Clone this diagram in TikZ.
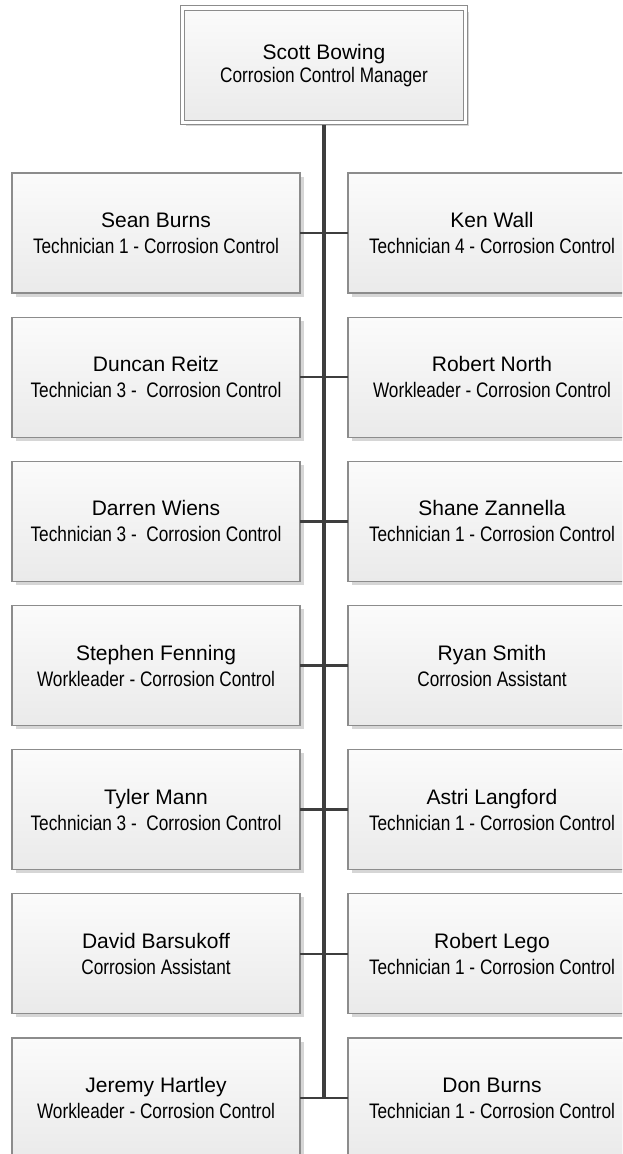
\documentclass[tikz,border=0pt]{standalone}
\usepackage{fontspec}
\setmainfont{Liberation Sans}
\newfontfamily\titlefont[FakeStretch=0.82]{Liberation Sans}
\usetikzlibrary{shadows}

\definecolor{boxline}{HTML}{8C8C8C}
\definecolor{boxtop}{HTML}{FBFBFB}
\definecolor{boxbottom}{HTML}{EAEAEA}
\definecolor{shadowgray}{HTML}{D6D6D6}
\definecolor{wire}{HTML}{3E3E3E}

% one entry of the chart: name on the first line, job title below
\newcommand\staffentry[2]{#1\\{\titlefont #2}}

\tikzset{
  staffbox/.style={draw=boxline, line width=1.2pt,
    top color=boxtop, bottom color=boxbottom,
    minimum width=288pt, minimum height=120pt,
    inner sep=0pt, outer sep=0pt, align=center,
    font=\fontsize{21}{26}\selectfont,
    drop shadow={shadow xshift=3.5pt, shadow yshift=-3.5pt,
                 fill=shadowgray, opacity=1}},
  headbox/.style={staffbox, double=white, double distance=3.4pt,
    line width=1.1pt, minimum width=283pt, minimum height=114.5pt,
    font=\fontsize{21}{23}\selectfont},
  trunk/.style={draw=wire, line width=4pt},
  branch/.style={draw=wire, line width=2.6pt}
}

\begin{document}
\begin{tikzpicture}[x=1pt, y=-1pt]
\useasboundingbox (0,0) rectangle (622,1154);
\clip (0,0) rectangle (622,1154);

% manager
\node[headbox] (boss) at (324,65.25)
  {\staffentry{Scott Bowing}{Corrosion Control Manager}};

% staff, two columns
\foreach \i/\ln/\lt/\rn/\rt in {
  1/Sean Burns/Technician 1 - Corrosion Control/Ken Wall/Technician 4 - Corrosion Control,
  2/Duncan Reitz/Technician 3 - \ Corrosion Control/Robert North/Workleader - Corrosion Control,
  3/Darren Wiens/Technician 3 - \ Corrosion Control/Shane Zannella/Technician 1 - Corrosion Control,
  4/Stephen Fenning/Workleader - Corrosion Control/Ryan Smith/Corrosion Assistant,
  5/Tyler Mann/Technician 3 - \ Corrosion Control/Astri Langford/Technician 1 - Corrosion Control,
  6/David Barsukoff/Corrosion Assistant/Robert Lego/Technician 1 - Corrosion Control,
  7/Jeremy Hartley/Workleader - Corrosion Control/Don Burns/Technician 1 - Corrosion Control}
{
  \node[staffbox] (L\i) at (156,{233+144.17*(\i-1)}) {\staffentry{\ln}{\lt}};
  \node[staffbox] (R\i) at (492,{233+144.17*(\i-1)}) {\staffentry{\rn}{\rt}};
}

% reporting lines
\draw[trunk] ([yshift=-2.6pt]boss.south) -- (boss.south |- L7.east);
\foreach \i in {1,...,7}
  \draw[branch] (L\i.east) -- (R\i.west);
\end{tikzpicture}
\end{document}
